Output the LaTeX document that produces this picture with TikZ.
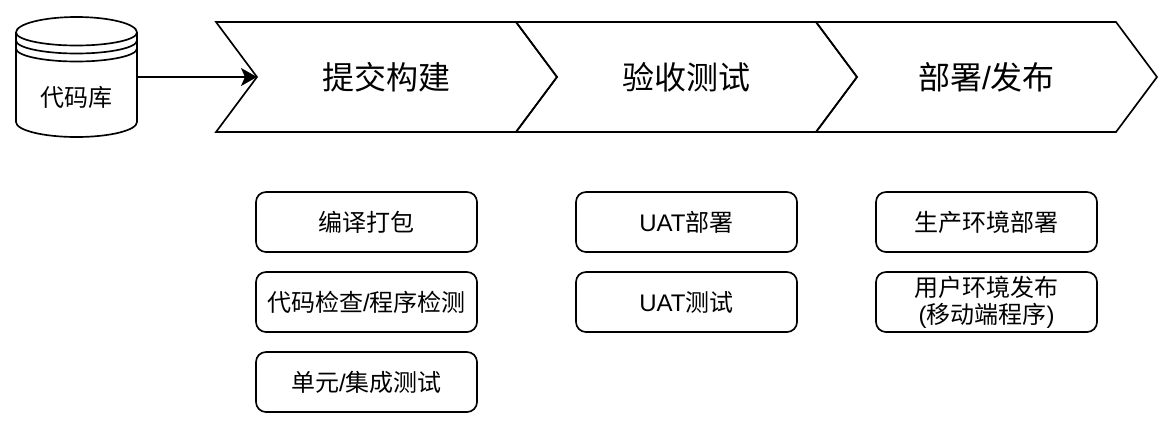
\documentclass[tikz,border=0pt]{standalone}
\usepackage{fontspec}
\setmainfont{Noto Sans CJK SC}
\newfontfamily\latinfont{Liberation Sans}
\newcommand{\lat}[1]{{\latinfont #1}}
\usetikzlibrary{arrows.meta}
\usetikzlibrary{shapes.symbols}
\tikzset{
  >={Stealth[length=12pt,width=13.5pt,inset=3pt]},
  line/.style={draw, ->},
  chevron/.style={draw, shape=signal, signal from=west, signal to=east, signal pointer angle=106.6,
    minimum width=255.75pt, minimum height=82.5pt, inner sep=0pt, font=\fontsize{24pt}{28pt}\selectfont},
  task/.style={draw, rectangle, rounded corners=7.5pt, minimum width=165.75pt, minimum height=45pt,
    inner sep=0pt, align=center, font=\fontsize{18pt}{20pt}\selectfont}
}

\begin{document}
\begin{tikzpicture}[x=0.75pt, y=-0.75pt, line width=1.25pt]
        \useasboundingbox (0,0) rectangle (1174,429);
        % Repository
        \node[minimum width=90.75pt, minimum height=90pt, inner sep=0pt] (repo) at (76.5,77) {};
        \node[font=\fontsize{18pt}{20pt}\selectfont] (repolabel) at (76.5,97) {代码库};
        \draw (16,32.5) arc[start angle=180, end angle=360, x radius=60.5, y radius=15.5]
              -- (137,122) arc[start angle=0, end angle=180, x radius=60.5, y radius=15]
              -- cycle;
        \draw (16,32.5) arc[start angle=180, end angle=0, x radius=60.5, y radius=13];
        \draw (16,40.5) arc[start angle=180, end angle=0, x radius=60.5, y radius=13];
        \draw (16,48.5) arc[start angle=180, end angle=0, x radius=60.5, y radius=13];

        % Stages
        \node[chevron] (build) at (386.5,77) {提交构建};
        \node[chevron] (accept) at (686.5,77) {验收测试};
        \node[chevron] (release) at (986.5,77) {部署\lat{/}发布};
        \coordinate (notch) at (257,77);

        % Tasks
        \node[task] (compile) at (366.5,222) {编译打包};
        \node[task] (check) at (366.5,302) {代码检查\lat{/}程序检测};
        \node[task] (unit) at (366.5,382) {单元\lat{/}集成测试};
        \node[task] (uatdeploy) at (686.5,222) {\lat{UAT}部署};
        \node[task] (uattest) at (686.5,302) {\lat{UAT}测试};
        \node[task] (proddeploy) at (986.5,222) {生产环境部署};
        \node[task] (userrelease) at (986.5,302) {用户环境发布\\\lat{(}移动端程序\lat{)}};

        % Connection
        \path [line] (repo.east) -- (notch);
    \end{tikzpicture}
\end{document}
